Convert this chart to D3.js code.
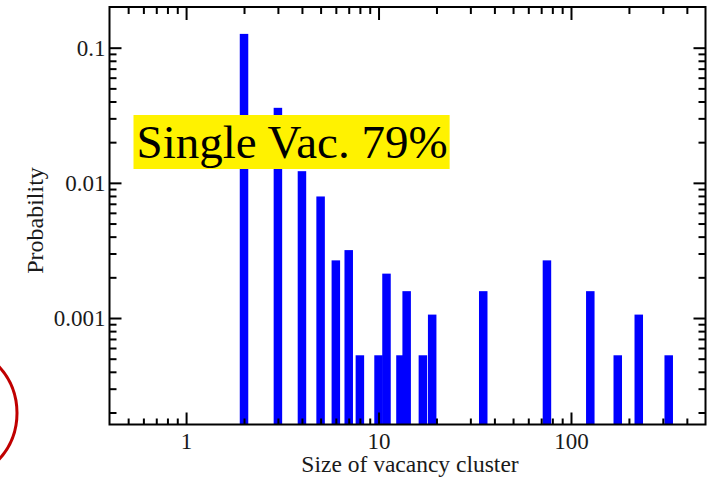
<!DOCTYPE html>
<html>
<head>
<meta charset="utf-8">
<script src="https://cdn.jsdelivr.net/npm/d3@7"></script>
<style>
  html, body { margin: 0; padding: 0; background: #fff; }
  svg { display: block; }
</style>
</head>
<body>
<svg id="chart" width="708" height="478"></svg>
<script>
// ---- data ----
const clusterSizes = [2, 3, 4, 5, 6, 7, 8, 10, 11, 13, 14, 17, 19, 35, 75, 126, 175, 225, 322];
const probabilities = [0.1265, 0.0359, 0.0122, 0.00793, 0.00267, 0.00318, 0.00053, 0.00053, 0.00213,
                       0.00053, 0.00158, 0.00053, 0.00106, 0.00158, 0.00267, 0.00158, 0.00053, 0.00106, 0.00053];
const xMajorTicks = [1, 10, 100];
const xMinorTicks = [0.5, 0.6, 0.7, 0.8, 0.9, 2, 3, 4, 5, 6, 7, 8, 9, 20, 30, 40, 50, 60, 70, 80, 90, 200, 300, 400];
const yMajorTicks = [0.1, 0.01, 0.001];
const yMajorLabels = ["0.1", "0.01", "0.001"];
const yMinorTicks = [0.0002, 0.0003, 0.0004, 0.0005, 0.0006, 0.0007, 0.0008, 0.0009,
                     0.002, 0.003, 0.004, 0.005, 0.006, 0.007, 0.008, 0.009,
                     0.02, 0.03, 0.04, 0.05, 0.06, 0.07, 0.08, 0.09];
const annotation = "Single Vac. 79%";
const xTitle = "Size of vacancy cluster";
const yTitle = "Probability";

// ---- layout ----
const L = 109.5, R = 705.5, T = 7, B = 424.5;
const svg = d3.select("#chart");
const font = "'Liberation Serif', 'Times New Roman', serif";

const x = d3.scaleLog().domain([0.4, 500]).range([L, R]);
const y = d3.scaleLog().domain([0.000163, 0.2]).range([B, T]);

// red circle (partial, at left edge)
svg.append("circle")
  .attr("cx", -52).attr("cy", 413).attr("r", 69)
  .attr("fill", "none").attr("stroke", "#c00000").attr("stroke-width", 3);

// bars
const barW = 8.5;
svg.append("g").selectAll("rect")
  .data(clusterSizes.map((s, i) => ({ s, p: probabilities[i] })))
  .join("rect")
  .attr("x", d => x(d.s) - barW / 2)
  .attr("width", barW)
  .attr("y", d => y(d.p))
  .attr("height", d => B - y(d.p))
  .attr("fill", "#0000ff");

// axes
function styleAxis(g) {
  g.select(".domain").remove();
  g.selectAll(".tick line").attr("stroke", "#000").attr("stroke-width", 2);
  g.selectAll(".tick text").attr("font-family", font).attr("font-size", 23).attr("fill", "#1a1a1a");
}

// bottom
svg.append("g").attr("transform", `translate(0,${B})`)
  .call(d3.axisBottom(x).tickValues(xMajorTicks).tickFormat(d3.format("d")).tickSize(-12).tickPadding(8.5))
  .call(styleAxis);
svg.append("g").attr("transform", `translate(0,${B})`)
  .call(d3.axisBottom(x).tickValues(xMinorTicks).tickFormat("").tickSize(-6))
  .call(styleAxis);
// top
svg.append("g").attr("transform", `translate(0,${T})`)
  .call(d3.axisTop(x).tickValues(xMajorTicks).tickFormat("").tickSize(-13))
  .call(styleAxis);
svg.append("g").attr("transform", `translate(0,${T})`)
  .call(d3.axisTop(x).tickValues(xMinorTicks).tickFormat("").tickSize(-7))
  .call(styleAxis);
// left
svg.append("g").attr("transform", `translate(${L},0)`)
  .call(d3.axisLeft(y).tickValues(yMajorTicks).tickFormat((d, i) => yMajorLabels[i]).tickSize(-12).tickPadding(4))
  .call(styleAxis);
svg.append("g").attr("transform", `translate(${L},0)`)
  .call(d3.axisLeft(y).tickValues(yMinorTicks).tickFormat("").tickSize(-7))
  .call(styleAxis);
// right
svg.append("g").attr("transform", `translate(${R},0)`)
  .call(d3.axisRight(y).tickValues(yMajorTicks).tickFormat("").tickSize(-12))
  .call(styleAxis);
svg.append("g").attr("transform", `translate(${R},0)`)
  .call(d3.axisRight(y).tickValues(yMinorTicks).tickFormat("").tickSize(-7))
  .call(styleAxis);

// frame
svg.append("rect")
  .attr("x", L).attr("y", T).attr("width", R - L).attr("height", B - T)
  .attr("fill", "none").attr("stroke", "#000").attr("stroke-width", 2);

// axis titles
svg.append("text")
  .attr("x", 410).attr("y", 471.5)
  .attr("text-anchor", "middle")
  .attr("font-family", font).attr("font-size", 23.5).attr("fill", "#1a1a1a")
  .text(xTitle);
svg.append("text")
  .attr("transform", "translate(43,220.5) rotate(-90)")
  .attr("text-anchor", "middle")
  .attr("font-family", font).attr("font-size", 24).attr("fill", "#1a1a1a")
  .text(yTitle);

// annotation
const ann = svg.append("g");
const annRect = ann.append("rect").attr("fill", "#fff200");
const annText = ann.append("text")
  .attr("x", 136.5).attr("y", 158.3)
  .attr("font-family", font).attr("font-size", 47).attr("fill", "#000")
  .text(annotation);
const bb = annText.node().getBBox();
annRect.attr("x", bb.x - 3).attr("y", 115).attr("width", bb.width + 5).attr("height", 54);
</script>
</body>
</html>
